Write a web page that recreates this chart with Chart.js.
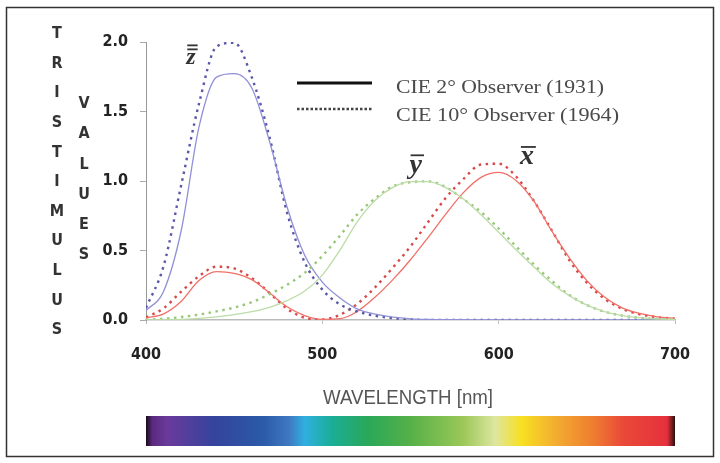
<!DOCTYPE html>
<html>
<head>
<meta charset="utf-8">
<script src="https://cdn.jsdelivr.net/npm/chart.js@4/dist/chart.umd.min.js"></script>
<style>
html,body{margin:0;padding:0;background:#fff;}
#c{display:block;}
</style>
</head>
<body>
<canvas id="c" width="720" height="463"></canvas>
<script>
// Wavelengths (nm)
const wavelengths = [400,410,420,430,440,450,460,470,480,490,500,510,520,530,540,550,560,570,580,590,600,610,620,630,640,650,660,670,680,690,700];
// CIE 2° Observer (1931)
const x2 = [0.0143,0.0435,0.1344,0.2839,0.3483,0.3362,0.2908,0.1954,0.0956,0.0320,0.0049,0.0093,0.0633,0.1655,0.2904,0.4334,0.5945,0.7621,0.9163,1.0263,1.0622,1.0026,0.8544,0.6424,0.4479,0.2835,0.1649,0.0874,0.0468,0.0227,0.0114];
const y2 = [0.0004,0.0012,0.0040,0.0116,0.0230,0.0380,0.0600,0.0910,0.1390,0.2080,0.3230,0.5030,0.7100,0.8620,0.9540,0.9950,0.9950,0.9520,0.8700,0.7570,0.6310,0.5030,0.3810,0.2650,0.1750,0.1070,0.0610,0.0320,0.0170,0.0082,0.0041];
const z2 = [0.0679,0.2074,0.6456,1.3856,1.7471,1.7721,1.6692,1.2876,0.8130,0.4652,0.2720,0.1582,0.0782,0.0422,0.0203,0.0087,0.0039,0.0021,0.0017,0.0011,0.0008,0.0003,0.0002,0,0,0,0,0,0,0,0];
// CIE 10° Observer (1964)
const x10 = [0.0191,0.0847,0.2045,0.3147,0.3837,0.3707,0.3023,0.1956,0.0805,0.0162,0.0038,0.0375,0.1177,0.2365,0.3768,0.5298,0.7052,0.8787,1.0142,1.1185,1.1240,1.0305,0.8563,0.6475,0.4316,0.2683,0.1526,0.0813,0.0409,0.0199,0.0096];
const y10 = [0.0020,0.0088,0.0214,0.0387,0.0621,0.0895,0.1282,0.1852,0.2536,0.3391,0.4608,0.6067,0.7618,0.8752,0.9620,0.9918,0.9973,0.9556,0.8689,0.7774,0.6583,0.5280,0.3981,0.2835,0.1798,0.1076,0.0603,0.0318,0.0159,0.0077,0.0037];
const z10 = [0.0860,0.3894,0.9725,1.5535,1.9673,1.9948,1.7454,1.3176,0.7721,0.4153,0.2185,0.1120,0.0607,0.0305,0.0137,0.0040,0,0,0,0,0,0,0,0,0,0,0,0,0,0,0];
// Axis ticks
const xTicks = [400,500,600,700];
const yTicks = [0.0,0.5,1.0,1.5,2.0];
const legendLabels = ['CIE 2° Observer (1931)','CIE 10° Observer (1964)'];
const curveLabels = [{t:'z', x:425.5, y:1.84},{t:'y', x:553, y:1.06},{t:'x', x:616, y:1.12}];

function pts(arr){ return wavelengths.map((w,i)=>({x:w,y:arr[i]})); }

const solid = (data,color)=>({data:pts(data),borderColor:color,borderWidth:1.3,pointRadius:0,cubicInterpolationMode:'monotone',fill:false});
const dotted = (data,color)=>({data:pts(data),borderColor:color,borderWidth:2.4,borderDash:[2.5,4.5],pointRadius:0,cubicInterpolationMode:'monotone',fill:false});

const COND = '"DejaVu Sans Condensed", "Liberation Sans Narrow", "Liberation Sans", sans-serif';

function stretchText(ctx, text, x, y, targetW){
  const w = ctx.measureText(text).width;
  const k = targetW / w;
  ctx.save();
  ctx.translate(x, y);
  ctx.scale(k, 1);
  ctx.fillText(text, 0, 0);
  ctx.restore();
}

const overlay = {
  id:'overlay',
  afterDraw(chart){
    const ctx = chart.ctx, xs = chart.scales.x, ys = chart.scales.y;
    ctx.save();
    // frame
    ctx.strokeStyle = '#333'; ctx.lineWidth = 1.5;
    ctx.strokeRect(6.5,7.5,707,449);
    // vertical letters
    ctx.fillStyle = '#333';
    ctx.font = 'bold 16px ' + COND;
    ctx.textAlign = 'center'; ctx.textBaseline = 'middle';
    'TRISTIMULUS'.split('').forEach((ch,i)=>ctx.fillText(ch,57,34+i*29.6));
    'VALUES'.split('').forEach((ch,i)=>ctx.fillText(ch,84,104+i*30.2));
    // legend
    ctx.strokeStyle = '#111'; ctx.lineWidth = 3; ctx.setLineDash([]);
    ctx.beginPath(); ctx.moveTo(297,83); ctx.lineTo(372,83); ctx.stroke();
    ctx.strokeStyle = '#444'; ctx.lineWidth = 2.5; ctx.setLineDash([2.5,2]);
    ctx.beginPath(); ctx.moveTo(297,109); ctx.lineTo(372,109); ctx.stroke();
    ctx.setLineDash([]);
    ctx.fillStyle = '#4a4a4a';
    ctx.font = '18px "Liberation Serif", "Times New Roman", serif';
    ctx.textAlign = 'left'; ctx.textBaseline = 'middle';
    stretchText(ctx, legendLabels[0], 396, 88, 208);
    stretchText(ctx, legendLabels[1], 396, 116, 223);
    // curve labels with overbar
    curveLabels.forEach((c,i)=>{
      const px = xs.getPixelForValue(c.x), py = ys.getPixelForValue(c.y);
      const size = i===0 ? 24 : 28;
      ctx.font = 'italic bold '+size+'px "Liberation Serif", "Times New Roman", serif';
      ctx.fillStyle = '#333'; ctx.textAlign='center'; ctx.textBaseline='alphabetic';
      ctx.fillText(c.t,px,py);
      const w = ctx.measureText(c.t).width;
      ctx.strokeStyle='#333'; ctx.lineWidth=1.8;
      const top = py - size*0.62;
      ctx.beginPath(); ctx.moveTo(px-w/2+1,top); ctx.lineTo(px+w/2+2,top); ctx.stroke();
      if(i===0){ ctx.beginPath(); ctx.moveTo(px-w/2+1,top-4); ctx.lineTo(px+w/2+2,top-4); ctx.stroke(); }
    });
    // x title
    ctx.fillStyle = '#555';
    ctx.font = '20px "Liberation Sans", Arial, sans-serif';
    ctx.textAlign='left'; ctx.textBaseline='middle';
    stretchText(ctx, 'WAVELENGTH [nm]', 323, 398, 170);
    // spectrum bar
    const x0 = xs.getPixelForValue(400), x1 = xs.getPixelForValue(700);
    const g = ctx.createLinearGradient(x0,0,x1,0);
    const stops = [[0,'#1a0a1a'],[0.012,'#5a2a80'],[0.04,'#6a3a9c'],[0.13,'#34449c'],[0.22,'#2a5aa8'],[0.27,'#3f78c0'],[0.3,'#2fb0e0'],[0.35,'#1aae98'],[0.42,'#2aa858'],[0.5,'#56b048'],[0.6,'#9cc858'],[0.66,'#dde6a0'],[0.71,'#f8e020'],[0.77,'#f3b030'],[0.85,'#ee7a30'],[0.9,'#ea4a38'],[0.985,'#e5303c'],[1,'#2a1010']];
    stops.forEach(s=>g.addColorStop(s[0],s[1]));
    ctx.fillStyle = g;
    ctx.fillRect(x0,416,x1-x0,30);
    ctx.restore();
  }
};

new Chart(document.getElementById('c'),{
  type:'line',
  data:{datasets:[
    solid(y2,'#bcdca8'), dotted(y10,'#98c878'),
    solid(z2,'#9090d8'), dotted(z10,'#5858a8'),
    solid(x2,'#f07068'), dotted(x10,'#d84848')
  ]},
  options:{
    responsive:false, animation:false, devicePixelRatio:1,
    layout:{padding:{left:86,right:45,top:42,bottom:93}},
    plugins:{legend:{display:false},tooltip:{enabled:false}},
    scales:{
      x:{type:'linear',min:400,max:700,
        afterFit(s){s.height=50;},
        afterBuildTicks(s){s.ticks = xTicks.map(v=>({value:v}));},
        grid:{drawOnChartArea:false,tickLength:4,color:'#bbb'},
        border:{color:'#bbb',width:1.5},
        ticks:{padding:21,color:'#222',font:{family:COND,weight:'bold',size:16},maxRotation:0}
      },
      y:{type:'linear',min:0,max:2.0,
        afterFit(s){s.width=60;},
        afterBuildTicks(s){s.ticks = yTicks.map(v=>({value:v}));},
        grid:{drawOnChartArea:false,tickLength:6,color:'#aaa'},
        border:{color:'#999',width:1},
        ticks:{padding:12,color:'#222',callback:v=>Number(v).toFixed(1),font:{family:COND,weight:'bold',size:16}}
      }
    }
  },
  plugins:[overlay]
});
</script>
</body>
</html>
